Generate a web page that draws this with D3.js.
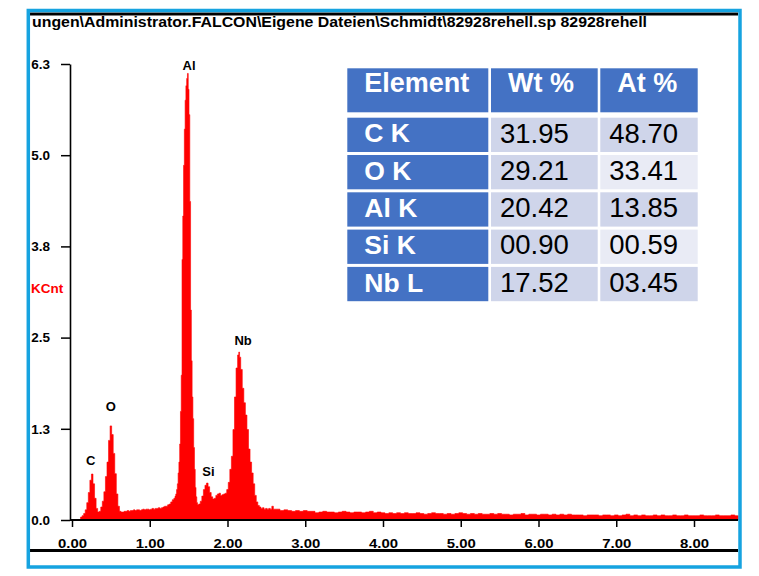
<!DOCTYPE html>
<html>
<head>
<meta charset="utf-8">
<script src="https://cdn.jsdelivr.net/npm/d3@7"></script>
<style>
  html, body { margin: 0; padding: 0; background: #fff; }
  svg { display: block; }
</style>
</head>
<body>
<svg id="chart" width="759" height="576"></svg>
<script>
// ---- data -------------------------------------------------------------
const headerPath = "ungen\\Administrator.FALCON\\Eigene Dateien\\Schmidt\\82928rehell.sp 82928rehell";
const yUnit = "KCnt";

const xTickValues = [0, 1, 2, 3, 4, 5, 6, 7, 8];
const yTickValues = [0, 1.26, 2.52, 3.78, 5.04, 6.3];

// EDS spectrum: [energy keV, counts KCnt]
const spectrum = [
  [0.10,0.00],[0.12,0.04],[0.14,0.06],[0.16,0.09],[0.18,0.14],[0.20,0.24],[0.22,0.38],[0.24,0.55],
  [0.26,0.635],[0.28,0.50],[0.30,0.30],[0.32,0.16],[0.34,0.11],[0.36,0.12],[0.38,0.18],[0.40,0.26],
  [0.42,0.39],[0.44,0.60],[0.46,0.80],[0.48,1.10],[0.50,1.30],[0.52,1.18],[0.54,0.92],[0.56,0.64],
  [0.58,0.36],[0.60,0.19],[0.62,0.12],[0.64,0.11],[0.66,0.11],[0.68,0.12],[0.70,0.12],[0.72,0.13],
  [0.74,0.12],[0.76,0.13],[0.78,0.13],[0.80,0.14],[0.82,0.13],[0.84,0.14],[0.86,0.14],[0.88,0.13],
  [0.90,0.14],[0.92,0.15],[0.94,0.14],[0.96,0.15],[0.98,0.15],[1.00,0.14],[1.02,0.15],[1.04,0.16],
  [1.06,0.15],[1.08,0.16],[1.10,0.16],[1.12,0.17],[1.14,0.16],[1.16,0.17],[1.18,0.18],[1.20,0.19],
  [1.22,0.19],[1.24,0.21],[1.26,0.22],[1.28,0.25],[1.30,0.28],[1.32,0.30],[1.33,0.33],[1.34,0.36],
  [1.35,0.42],[1.36,0.50],[1.37,0.65],[1.38,0.80],[1.39,1.05],[1.40,1.50],[1.41,2.00],[1.42,3.60],
  [1.43,4.20],[1.44,4.90],[1.45,5.40],[1.46,5.80],[1.47,6.00],[1.48,6.10],[1.49,6.17],[1.50,5.95],
  [1.51,5.60],[1.52,4.40],[1.53,2.90],[1.54,2.20],[1.55,1.70],[1.56,1.40],[1.57,1.00],[1.58,0.70],
  [1.59,0.45],[1.60,0.32],[1.61,0.24],[1.62,0.21],[1.64,0.22],[1.66,0.26],[1.68,0.33],[1.70,0.42],
  [1.72,0.48],[1.74,0.51],[1.76,0.46],[1.78,0.38],[1.80,0.32],[1.82,0.29],[1.84,0.30],[1.86,0.34],
  [1.88,0.36],[1.90,0.37],[1.92,0.34],[1.94,0.35],[1.96,0.36],[1.98,0.37],[2.00,0.42],[2.02,0.52],
  [2.04,0.70],[2.06,0.88],[2.08,1.25],[2.10,1.70],[2.12,2.10],[2.14,2.28],[2.15,2.32],[2.16,2.25],
  [2.18,2.08],[2.20,1.82],[2.22,1.62],[2.24,1.45],[2.26,1.25],[2.28,0.98],[2.30,0.80],[2.32,0.65],
  [2.34,0.50],[2.36,0.34],[2.38,0.25],[2.40,0.20],[2.42,0.18],[2.44,0.16],[2.46,0.17],[2.48,0.15],
  [2.50,0.16],[2.52,0.15],[2.54,0.16],[2.56,0.15],[2.58,0.19],[2.60,0.15],[2.65,0.15],[2.70,0.13],
  [2.75,0.14],[2.80,0.13],[2.85,0.12],[2.90,0.13],[2.95,0.12],[3.00,0.13],[3.05,0.12],[3.10,0.12],
  [3.15,0.10],[3.20,0.11],[3.25,0.12],[3.30,0.11],[3.35,0.11],[3.40,0.10],[3.45,0.11],[3.50,0.12],
  [3.55,0.11],[3.60,0.10],[3.65,0.11],[3.70,0.11],[3.75,0.10],[3.80,0.11],[3.85,0.12],[3.90,0.10],
  [3.95,0.11],[4.00,0.10],[4.05,0.09],[4.10,0.10],[4.15,0.09],[4.20,0.10],[4.25,0.09],[4.30,0.10],
  [4.35,0.09],[4.40,0.09],[4.45,0.10],[4.50,0.09],[4.55,0.08],[4.60,0.09],[4.65,0.10],[4.70,0.09],
  [4.75,0.09],[4.80,0.08],[4.85,0.09],[4.90,0.08],[4.95,0.09],[5.00,0.10],[5.05,0.09],[5.10,0.08],
  [5.15,0.09],[5.20,0.08],[5.25,0.09],[5.30,0.08],[5.35,0.08],[5.40,0.09],[5.45,0.08],[5.50,0.09],
  [5.55,0.08],[5.60,0.08],[5.65,0.07],[5.70,0.08],[5.75,0.08],[5.80,0.09],[5.85,0.07],[5.90,0.08],
  [5.95,0.08],[6.00,0.07],[6.05,0.08],[6.10,0.08],[6.15,0.07],[6.20,0.08],[6.25,0.07],[6.30,0.08],
  [6.35,0.07],[6.40,0.08],[6.45,0.07],[6.50,0.07],[6.55,0.07],[6.60,0.06],[6.65,0.07],[6.70,0.07],
  [6.75,0.07],[6.80,0.06],[6.85,0.07],[6.90,0.07],[6.95,0.06],[7.00,0.07],[7.05,0.06],[7.10,0.07],
  [7.15,0.08],[7.20,0.06],[7.25,0.07],[7.30,0.06],[7.35,0.07],[7.40,0.06],[7.45,0.06],[7.50,0.07],
  [7.55,0.06],[7.60,0.07],[7.65,0.06],[7.70,0.06],[7.75,0.07],[7.80,0.06],[7.85,0.06],[7.90,0.07],
  [7.95,0.06],[8.00,0.06],[8.05,0.06],[8.10,0.07],[8.15,0.06],[8.20,0.06],[8.25,0.06],[8.30,0.07],
  [8.35,0.06],[8.40,0.06],[8.45,0.06],[8.50,0.07],[8.55,0.06],[8.57,0.06]
];

// peak identification labels, anchored in data units
const peakNames  = ["C", "O", "Al", "Si", "Nb"];
const peakKeV    = [0.24, 0.50, 1.505, 1.755, 2.20];
const peakKCnt   = [0.82, 1.565, 6.285, 0.667, 2.486];

// quantification table
const tableHeader = ["Element", "Wt %", "At %"];
const elementLines = ["C K", "O K", "Al K", "Si K", "Nb L"];
const wtPercent = ["31.95", "29.21", "20.42", "00.90", "17.52"];
const atPercent = ["48.70", "33.41", "13.85", "00.59", "03.45"];

// ---- drawing ----------------------------------------------------------
const svg = d3.select("#chart");
const W = 759, H = 576;
svg.append("rect").attr("width", W).attr("height", H).attr("fill", "#fff");

const x = d3.scaleLinear().domain([0, 8]).range([72, 694]);
const y = d3.scaleLinear().domain([0, 6.3]).range([520, 64]);
const plotLeft = 70, plotRight = 738;

// spectrum fill
const area = d3.area()
  .x(d => x(d[0]))
  .y0(y(0))
  .y1(d => y(d[1]))
  .curve(d3.curveStep);
svg.append("path")
  .datum(spectrum)
  .attr("d", area)
  .attr("fill", "#ff0000")
  .attr("stroke", "#ff0000")
  .attr("stroke-width", 0.6);

const boldFont = "'Liberation Sans', Arial, sans-serif";

// y axis
const yAxis = d3.axisLeft(y)
  .tickValues(yTickValues)
  .tickFormat(d3.format(".1f"))
  .tickSize(9)
  .tickSizeOuter(0)
  .tickPadding(11);
const gy = svg.append("g").attr("transform", `translate(${plotLeft},0)`).call(yAxis);
gy.select(".domain").attr("stroke", "#000").attr("stroke-width", 1.6);
gy.selectAll(".tick line").attr("stroke", "#000").attr("stroke-width", 1.5);
gy.selectAll(".tick text")
  .attr("font-family", boldFont)
  .attr("font-weight", "bold")
  .attr("font-size", 13.5)
  .attr("fill", "#000");

// unit label
svg.append("text")
  .attr("x", 31).attr("y", 292.5)
  .attr("font-family", boldFont).attr("font-weight", "bold")
  .attr("font-size", 13.5).attr("fill", "#ff0000")
  .text(yUnit);

// x axis
const xAxis = d3.axisBottom(x)
  .tickValues(xTickValues)
  .tickFormat(d3.format(".2f"))
  .tickSize(7)
  .tickSizeOuter(0);
const gx = svg.append("g").attr("transform", "translate(0,520)").call(xAxis);
gx.select(".domain").remove();
gx.selectAll(".tick line").attr("stroke", "#000").attr("stroke-width", 1.5);
gx.selectAll(".tick text")
  .attr("y", 28).attr("dy", 0)
  .attr("font-family", boldFont)
  .attr("font-weight", "bold")
  .attr("font-size", 13.5)
  .attr("textLength", 29)
  .attr("lengthAdjust", "spacingAndGlyphs")
  .attr("fill", "#000");
svg.append("line")
  .attr("x1", plotLeft).attr("x2", plotRight)
  .attr("y1", 520).attr("y2", 520)
  .attr("stroke", "#000").attr("stroke-width", 2.2);

// peak labels
svg.append("g").selectAll("text")
  .data(peakNames)
  .join("text")
  .attr("x", (d, i) => x(peakKeV[i]))
  .attr("y", (d, i) => y(peakKCnt[i]))
  .attr("dy", "0.36em")
  .attr("text-anchor", "middle")
  .attr("font-family", boldFont).attr("font-weight", "bold")
  .attr("font-size", 13).attr("fill", "#000")
  .text(d => d);

// quantification table
const colX = [347.3, 491, 600.3];
const colW = [141, 106.7, 97.4];
const headTop = 68.3, headH = 44;
const rowTop0 = 117.7, rowPitch = 37.3, rowH = 34.3;
const blue = "#4472c4", dark = "#cfd5ea", light = "#e9ebf5";
const tbl = svg.append("g");

tbl.selectAll("rect.head")
  .data(tableHeader)
  .join("rect")
  .attr("class", "head")
  .attr("x", (d, i) => colX[i]).attr("y", headTop)
  .attr("width", (d, i) => colW[i]).attr("height", headH)
  .attr("fill", blue);
tbl.selectAll("text.head")
  .data(tableHeader)
  .join("text")
  .attr("class", "head")
  .attr("x", (d, i) => colX[i] + 17).attr("y", headTop + 23.4)
  .attr("font-family", boldFont).attr("font-weight", "bold")
  .attr("font-size", 27).attr("fill", "#fff")
  .text(d => d);

const rows = elementLines.map((el, i) => ({ el, wt: wtPercent[i], at: atPercent[i], i }));
const rowG = tbl.selectAll("g.row")
  .data(rows)
  .join("g")
  .attr("class", "row")
  .attr("transform", d => `translate(0,${rowTop0 + d.i * rowPitch})`);

rowG.append("rect")
  .attr("x", colX[0]).attr("width", colW[0]).attr("height", rowH).attr("fill", blue);
rowG.append("rect")
  .attr("x", colX[1]).attr("width", colW[1]).attr("height", rowH).attr("fill", dark);
rowG.append("rect")
  .attr("x", colX[2]).attr("width", colW[2]).attr("height", rowH)
  .attr("fill", d => d.i % 2 === 1 ? light : dark);

rowG.append("text")
  .attr("x", colX[0] + 17).attr("y", 24.8)
  .attr("font-family", boldFont).attr("font-weight", "bold")
  .attr("font-size", 26.5).attr("fill", "#fff")
  .text(d => d.el);
rowG.append("text")
  .attr("x", colX[1] + 9).attr("y", 24.8)
  .attr("font-family", boldFont)
  .attr("font-size", 27.5).attr("fill", "#000")
  .text(d => d.wt);
rowG.append("text")
  .attr("x", colX[2] + 9).attr("y", 24.8)
  .attr("font-family", boldFont)
  .attr("font-size", 27.5).attr("fill", "#000")
  .text(d => d.at);

// window rules and title
svg.append("line")
  .attr("x1", 30).attr("x2", plotRight).attr("y1", 14).attr("y2", 14)
  .attr("stroke", "#000").attr("stroke-width", 3);
svg.append("line")
  .attr("x1", 30).attr("x2", plotRight).attr("y1", 550.5).attr("y2", 550.5)
  .attr("stroke", "#000").attr("stroke-width", 3);
svg.append("text")
  .attr("x", 32).attr("y", 27)
  .attr("font-family", "'Liberation Sans Narrow', 'Liberation Sans', Arial, sans-serif")
  .attr("font-weight", "bold")
  .attr("font-size", 14)
  .attr("textLength", 615)
  .attr("lengthAdjust", "spacingAndGlyphs")
  .attr("fill", "#000")
  .text(headerPath);

// outer frame
svg.append("rect")
  .attr("x", 28.3).attr("y", 10.5)
  .attr("width", 711.7).attr("height", 556.5)
  .attr("fill", "none")
  .attr("stroke", "#16a3e0")
  .attr("stroke-width", 3.5);
</script>
</body>
</html>
